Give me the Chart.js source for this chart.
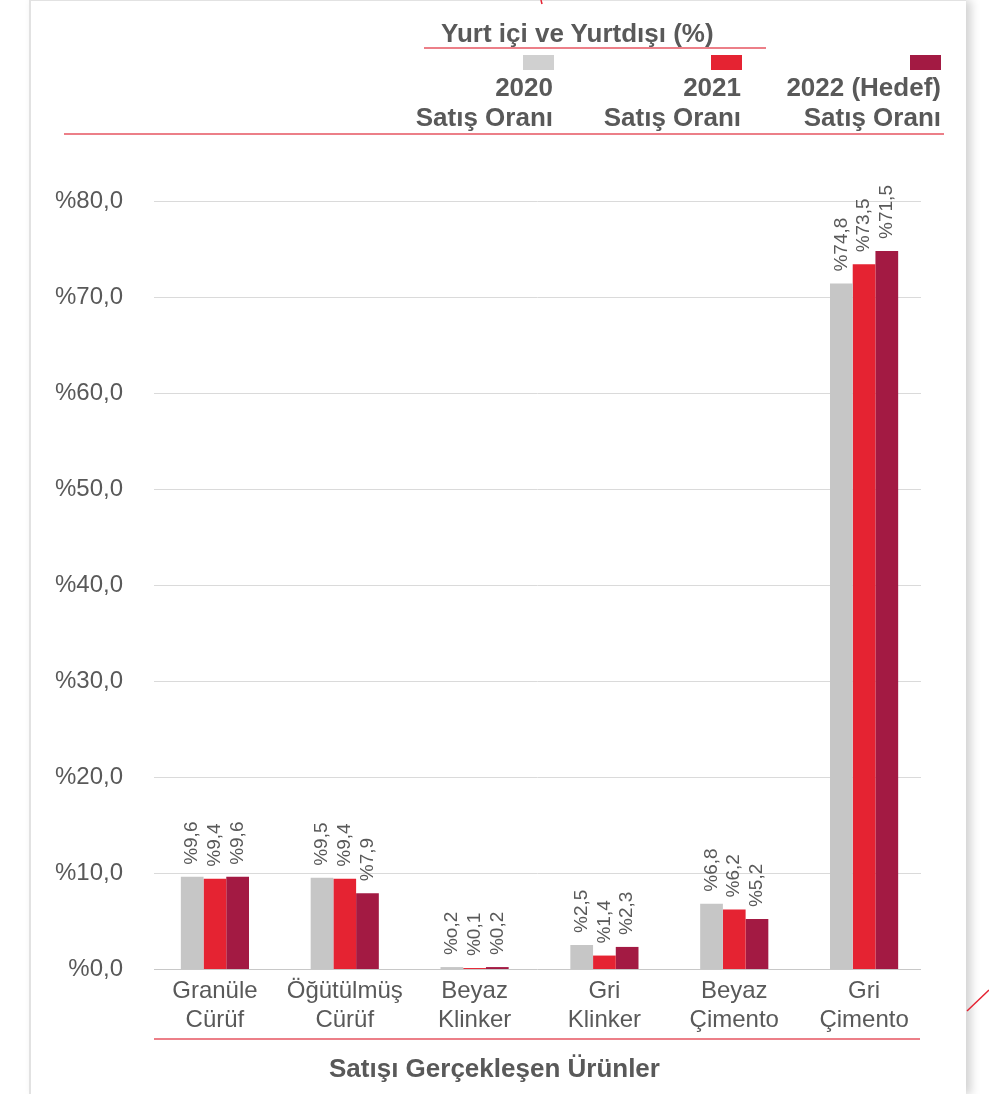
<!DOCTYPE html>
<html><head><meta charset="utf-8">
<script src="https://cdn.jsdelivr.net/npm/chart.js@4.4.1/dist/chart.umd.min.js"></script>
<style>
html,body{margin:0;padding:0;background:#fff;}
body{width:989px;height:1094px;position:relative;overflow:hidden;font-family:"Liberation Sans",Arial,sans-serif;color:#595959;}
#card{position:absolute;left:29px;top:0;width:935px;height:1094px;background:#fff;border-left:2px solid #e2e2e2;border-top:1px solid #e2e2e2;box-shadow:5px 0 9px rgba(0,0,0,0.18);}
#c{position:absolute;left:0;top:0;}
.t{position:absolute;font-weight:bold;font-size:26px;line-height:30px;white-space:nowrap;color:#595959;}
.r{text-align:right;}
.line{position:absolute;height:2px;background:#ec7f88;}
.sq{position:absolute;width:31px;height:15px;}
</style></head>
<body>
<div id="card"></div>
<canvas id="c" width="989" height="1094"></canvas>
<div class="t" style="left:441px;top:18px;">Yurt içi ve Yurtdışı (%)</div>
<div class="line" style="left:424px;top:47px;width:342px;"></div>
<div class="sq" style="left:523px;top:55px;background:#d0d0d0;"></div>
<div class="sq" style="left:711px;top:55px;background:#e52332;"></div>
<div class="sq" style="left:910px;top:55px;background:#a31a43;"></div>
<div class="t r" style="right:436px;top:72px;">2020<br>Satış Oranı</div>
<div class="t r" style="right:248px;top:72px;">2021<br>Satış Oranı</div>
<div class="t r" style="right:48px;top:72px;">2022 (Hedef)<br>Satış Oranı</div>
<div class="line" style="left:64px;top:133px;width:880px;"></div>
<div class="line" style="left:154px;top:1038px;width:766px;"></div>
<div class="t" style="left:329px;top:1053px;">Satışı Gerçekleşen Ürünler</div>
<svg style="position:absolute;left:0;top:0" width="989" height="1094">
<line x1="967" y1="1011" x2="989" y2="990" stroke="#e52332" stroke-width="1.5"/>
<line x1="541" y1="0" x2="542" y2="4" stroke="#e52332" stroke-width="1.5"/>
</svg>
<script>
const categories = [['Granüle','Cürüf'],['Öğütülmüş','Cürüf'],['Beyaz','Klinker'],['Gri','Klinker'],['Beyaz','Çimento'],['Gri','Çimento']];
const seriesNames = ['2020 Satış Oranı','2021 Satış Oranı','2022 (Hedef) Satış Oranı'];
const values2020 = [9.6, 9.5, 0.2, 2.5, 6.8, 71.4];
const values2021 = [9.4, 9.4, 0.1, 1.4, 6.2, 73.4];
const values2022 = [9.6, 7.9, 0.2, 2.3, 5.2, 74.8];
const labels2020 = ['%9,6','%9,5','%o,2','%2,5','%6,8','%74,8'];
const labels2021 = ['%9,4','%9,4','%0,1','%1,4','%6,2','%73,5'];
const labels2022 = ['%9,6','%7,9','%0,2','%2,3','%5,2','%71,5'];
const yTickLabels = ['%0,0','%10,0','%20,0','%30,0','%40,0','%50,0','%60,0','%70,0','%80,0'];
const colors = ['#c6c6c6','#e52332','#a31a43'];

const allLabels = [labels2020, labels2021, labels2022];
Chart.defaults.font.family = '"Liberation Sans", Arial, sans-serif';
Chart.defaults.color = '#595959';

const gridPlugin = {
  id: 'grid',
  beforeDatasetsDraw(chart) {
    const ctx = chart.ctx, y = chart.scales.y, a = chart.chartArea;
    ctx.save();
    ctx.lineWidth = 1;
    y.ticks.forEach(t => {
      const py = Math.round(y.getPixelForValue(t.value)) + 0.5;
      ctx.strokeStyle = t.value === 0 ? '#c8c8c8' : '#dadada';
      ctx.beginPath();
      ctx.moveTo(a.left + 4, py);
      ctx.lineTo(a.right - 8, py);
      ctx.stroke();
    });
    ctx.restore();
  }
};
const labelPlugin = {
  id: 'vlabels',
  afterDatasetsDraw(chart) {
    const ctx = chart.ctx;
    ctx.save();
    ctx.font = '19px "Liberation Sans", Arial, sans-serif';
    ctx.fillStyle = '#595959';
    ctx.textAlign = 'left';
    ctx.textBaseline = 'middle';
    chart.data.datasets.forEach((ds, i) => {
      chart.getDatasetMeta(i).data.forEach((bar, j) => {
        ctx.save();
        ctx.translate(bar.x, bar.y - 12);
        ctx.rotate(-Math.PI / 2);
        ctx.fillText(allLabels[i][j], 0, 0);
        ctx.restore();
      });
    });
    ctx.restore();
  }
};

new Chart(document.getElementById('c'), {
  type: 'bar',
  data: {
    labels: categories,
    datasets: [values2020, values2021, values2022].map((v, i) => ({
      label: seriesNames[i], data: v, backgroundColor: colors[i],
      categoryPercentage: 0.525, barPercentage: 1.0, borderWidth: 0
    }))
  },
  options: {
    responsive: false, animation: false, devicePixelRatio: 1,
    layout: { padding: { left: 30, right: 60, top: 201, bottom: 45 } },
    plugins: { legend: { display: false }, tooltip: { enabled: false } },
    scales: {
      x: {
        grid: { display: false }, border: { display: false },
        ticks: { font: { size: 24, lineHeight: 1.2 }, color: '#595959', padding: 0, maxRotation: 0, autoSkip: false },
        afterFit: s => { s.height = 80; }
      },
      y: {
        min: 0, max: 80,
        grid: { display: false }, border: { display: false },
        ticks: { stepSize: 10, font: { size: 24 }, color: '#595959', padding: 19,
          callback: (v, i) => yTickLabels[i] },
        afterFit: s => { s.width = 120; }
      }
    }
  },
  plugins: [gridPlugin, labelPlugin]
});
</script>
</body></html>
